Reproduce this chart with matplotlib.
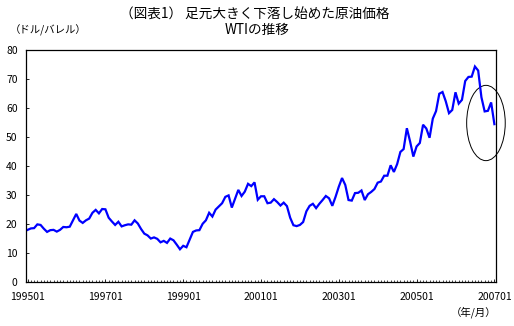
import matplotlib
matplotlib.use("Agg")
import matplotlib.pyplot as plt
from matplotlib.patches import Ellipse
from matplotlib.ticker import MultipleLocator

plt.rcParams['font.family'] = ['Noto Sans CJK JP', 'DejaVu Sans']

# Monthly WTI price (USD/barrel), 1995-01 .. 2007-01
wti_1995 = [18.0, 18.5, 18.6, 19.9, 19.7, 18.4, 17.3, 17.9, 18.0, 17.4, 18.0, 19.0]
wti_1996 = [18.9, 19.1, 21.3, 23.5, 21.2, 20.4, 21.3, 21.9, 23.9, 24.9, 23.7, 25.2]
wti_1997 = [25.1, 22.2, 20.9, 19.7, 20.8, 19.2, 19.6, 19.9, 19.8, 21.3, 20.2, 18.3]
wti_1998 = [16.7, 16.1, 15.0, 15.4, 14.9, 13.7, 14.2, 13.5, 15.0, 14.4, 12.9, 11.3]
wti_1999 = [12.5, 12.0, 14.7, 17.3, 17.8, 17.9, 20.1, 21.3, 23.9, 22.6, 25.0, 26.1]
wti_2000 = [27.2, 29.4, 29.9, 25.7, 28.8, 31.8, 29.7, 31.2, 33.9, 33.1, 34.4, 28.4]
wti_2001 = [29.6, 29.6, 27.2, 27.4, 28.6, 27.6, 26.4, 27.4, 26.2, 22.2, 19.6, 19.3]
wti_2002 = [19.7, 20.7, 24.4, 26.3, 27.0, 25.5, 27.0, 28.3, 29.7, 28.9, 26.3, 29.4]
wti_2003 = [32.9, 35.9, 33.5, 28.3, 28.1, 30.7, 30.8, 31.6, 28.3, 30.3, 31.1, 32.1]
wti_2004 = [34.3, 34.7, 36.7, 36.7, 40.3, 38.0, 40.7, 44.9, 45.9, 53.1, 48.5, 43.3]
wti_2005 = [46.8, 48.0, 54.3, 53.0, 49.8, 56.4, 59.0, 65.0, 65.6, 62.4, 58.3, 59.4]
wti_2006 = [65.5, 61.6, 62.9, 69.4, 70.8, 70.9, 74.4, 73.0, 63.8, 58.9, 59.1, 62.0]
wti_2007 = [54.5]

values = (wti_1995 + wti_1996 + wti_1997 + wti_1998 + wti_1999 + wti_2000 + wti_2001
          + wti_2002 + wti_2003 + wti_2004 + wti_2005 + wti_2006 + wti_2007)
tick_labels = ["199501", "199701", "199901", "200101", "200301", "200501", "200701"]

title_1 = "（図表1） 足元大きく下落し始めた原油価格"
title_2 = "WTIの推移"
y_unit = "（ドル/バレル）"
x_unit = "（年/月）"

fig = plt.figure(figsize=(5.14, 3.26), dpi=100)
ax = fig.add_axes([26/514, 1 - 282/326, 470/514, (282-50.3)/326])

x = list(range(len(values)))
ax.plot(x, values, color='#0000FF', lw=1.6, solid_joinstyle='miter')

ax.set_xlim(-0.5, len(values) - 0.5)
ax.set_ylim(0, 80)
ax.yaxis.set_major_locator(MultipleLocator(10))
ax.set_xticks(list(range(0, len(values), 24)))
ax.set_xticklabels(tick_labels)
ax.xaxis.set_minor_locator(MultipleLocator(1))
ax.tick_params(axis='x', which='major', direction='in', length=2.5, width=0.6, pad=7, labelsize=7.5)
ax.tick_params(axis='x', which='minor', direction='in', length=1.5, width=0.5)
ax.tick_params(axis='y', which='major', direction='in', length=2.5, width=0.6, pad=6, labelsize=7.5)
for s in ax.spines.values():
    s.set_linewidth(0.9)

ell = Ellipse((141.4, 54.9), width=11.9, height=26.0, fill=False, edgecolor='black',
              lw=0.7, clip_on=False)
ax.add_patch(ell)

fig.text(255/514, 1 - 15/326, title_1, ha='center', va='center', fontsize=9.8)
fig.text(257/514, 1 - 29.5/326, title_2, ha='center', va='center', fontsize=9.8)
fig.text(48/514, 1 - 30/326, y_unit, ha='center', va='center', fontsize=7.5)
fig.text(474/514, 1 - 312/326, x_unit, ha='center', va='center', fontsize=7.5)

fig.savefig('out.png', dpi=100)
